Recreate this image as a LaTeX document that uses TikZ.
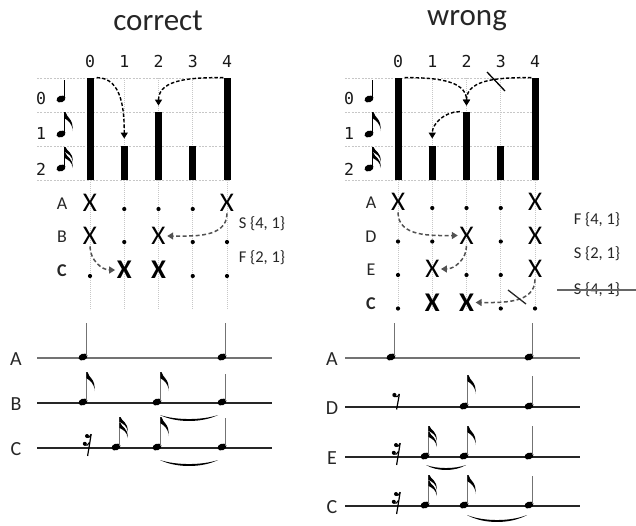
\documentclass[tikz,border=0pt]{standalone}
\usepackage{fontspec}
\setmainfont{Carlito}
\newfontfamily\digitfont{DejaVu Sans Mono}
\usetikzlibrary{arrows.meta}

% crescent-shaped tie below two notes: x1, x2, y, depth
\newcommand\tieunder[4]{%
  \fill (#1,#3) .. controls ({#1+(#2-#1)*0.28},{#3+1.33*#4}) and ({#2-(#2-#1)*0.28},{#3+1.33*#4}) .. (#2,#3)
        .. controls ({#2-(#2-#1)*0.28},{#3+1.33*#4-2.6}) and ({#1+(#2-#1)*0.28},{#3+1.33*#4-2.6}) .. cycle;}

\begin{document}
\begin{tikzpicture}[x=1pt,y=-1pt,
  title/.style={font=\fontsize{31}{34}\selectfont, text=black!85, anchor=base, inner sep=0pt},
  colnum/.style={font=\digitfont\fontsize{16.5}{18}\selectfont, text=black!90, anchor=base, inner sep=0pt},
  rowlab/.style={font=\fontsize{18}{20}\selectfont, text=black!85, inner sep=0pt},
  stafflab/.style={font=\fontsize{20}{22}\selectfont, text=black!85, inner sep=0pt},
  oplab/.style={font=\fontsize{16.5}{18}\selectfont, text=black!85, inner sep=0pt},
  gridh/.style={draw=black!22, line width=0.8pt, dash pattern=on 2pt off 1.3pt},
  gridv/.style={draw=black!22, line width=0.8pt, dash pattern=on 1pt off 1pt},
  bar/.style={fill=black, inner sep=0pt, minimum width=7pt, anchor=south},
  cellx/.style={font=\fontsize{27}{27}\selectfont, text=black, inner sep=1.5pt, node contents=X},
  cellb/.style={font=\fontsize{27}{27}\selectfont\bfseries, text=black, inner sep=1.5pt, node contents=X},
  celld/.style={circle, fill=black, inner sep=0pt, minimum size=4.2pt, yshift=-6pt, node contents={}},
  toparr/.style={-{Triangle[width=7pt,length=6pt]}, draw=black, line width=1.4pt, dash pattern=on 3.5pt off 2pt},
  botarr/.style={-{Triangle[width=7pt,length=6pt]}, draw=black!68, line width=1.5pt, dash pattern=on 4pt off 2.5pt},
  stemline/.style={draw=black!55, line width=1.1pt},
  staffA/.style={draw=black!55, line width=1.3pt},
  staffline/.style={draw=black!85, line width=1.1pt},
  pics/flag/.style={code={
    \fill (-0.6,0) -- (0.6,0) .. controls (1.5,{0.3*#1}) and (9,{0.35*#1}) .. (7.5,#1)
      .. controls (7.8,{0.6*#1}) and (3,{0.45*#1}) .. (-0.6,{0.32*#1}) -- cycle;}},
  pics/qn/.style={code={
    \fill[rotate=20] (0,0) ellipse (4.6pt and 3.3pt);
    \draw[stemline] (3.9,-1) -- (3.9,-#1);}},
  pics/en/.style={code={
    \fill[rotate=20] (0,0) ellipse (4.6pt and 3.3pt);
    \draw[stemline] (3.9,-1) -- (3.9,-#1);
    \pic at (3.9,-#1) {flag=19};}},
  pics/sn/.style={code={
    \fill[rotate=20] (0,0) ellipse (4.6pt and 3.3pt);
    \draw[stemline] (3.9,-1) -- (3.9,-#1);
    \pic at (3.9,-#1) {flag=15};
    \pic at (3.9,{-#1+6}) {flag=15};}},
  pics/er/.style={code={
    \fill (-2.6,-12) circle (2.1pt);
    \draw[line width=1.1pt] (-2.6,-10.5) .. controls (-0.5,-9.5) and (1.5,-10.5) .. (2.4,-13);
    \draw[line width=1.2pt] (2.4,-13) -- (-0.4,2.5);}},
  pics/sr/.style={code={
    \fill (-1,-12) circle (2pt);
    \fill (-3.2,-4.2) circle (2pt);
    \draw[line width=1.1pt] (-1,-10.6) .. controls (0.5,-10) and (2,-11) .. (3,-13.6);
    \draw[line width=1.1pt] (-3.2,-2.8) .. controls (-1.5,-2.2) and (0.5,-3) .. (1.5,-5.6);
    \draw[line width=1.2pt] (3.2,-14) -- (-0.4,8);}}
]
\useasboundingbox (0,0) rectangle (636,525);

% headings
\node[title] (tl) at (158,30) {correct};
\node[title] (tr) at (467,25) {wrong};

% duration grids (same for both panels)
\foreach \s/\o in {L/0,R/308} {
  \foreach \r in {78,112,146,180} \draw[gridh] (37+\o,\r) -- (230+\o,\r);
  \foreach \c in {0,...,4} \draw[gridv] ({90+\o+34.25*\c},78) -- ({90+\o+34.25*\c},310);
  \foreach \c/\h in {0/102,1/34,2/68,3/34,4/102}
    \node[bar, minimum height=\h pt] (\s b\c) at ({90+\o+34.25*\c},180) {};
  \foreach \c in {0,...,4}
    \node[colnum] (\s n\c) at ({90+\o+34.25*\c},67) {\c};
  \foreach \r/\y in {0/104,1/139,2/175}
    \node[colnum] (\s r\r) at (41+\o,\y) {\r};
  \begin{scope}[stemline/.style={draw=black, line width=1.1pt}]
    \pic at (61+\o,99) {qn=19};
    \pic at (61+\o,134) {en=22};
    \pic at (61+\o,168) {sn=21};
  \end{scope}
}

% top connectors, left panel
\draw[toparr] ([xshift=3pt]Lb0.north east) to[out=0,in=90] ([yshift=7pt]Lb1.north);
\draw[toparr] (Lb4.north west) to[out=180,in=90] ([yshift=6pt]Lb2.north);
% top connectors, right panel
\draw[toparr] ([xshift=3pt]Rb0.north east) to[out=0,in=90] ([yshift=6pt]Rb2.north);
\draw[toparr] (Rb4.north west) to[out=180,in=90] ([yshift=6pt]Rb2.north);
\draw[line width=1.3pt] (487,72) -- (505,91);
\draw[toparr] ([xshift=-3pt]Rb2.north west) to[out=180,in=90] ([yshift=7pt]Rb1.north);

% onset rows, left panel
\foreach \r/\y/\cells in {A/203/{x,d,d,d,x}, B/236/{x,d,x,d,d}, C/270/{d,b,b,d,d}}
  \foreach \k [count=\c from 0] in \cells
    \node (L\r\c) at ({90+34.25*\c},\y) [cell\k];
\node[rowlab] (LlA) at (62,204) {A};
\node[rowlab] (LlB) at (62,237) {B};
\node[rowlab] (LlC) at (62,271) {\bfseries C};
\node[oplab] (Lop1) at (262,224) {S \{4, 1\}};
\node[oplab] (Lop2) at (262,258) {F \{2, 1\}};
\draw[botarr] (LA4.south) to[out=-90,in=0] (LB2.east);
\draw[botarr] (LB0.south) to[out=-90,in=180] (LC1.west);

% onset rows, right panel
\foreach \r/\y/\cells in {A/202/{x,d,d,d,x}, D/235.5/{d,d,x,d,x}, E/269/{d,x,d,d,x}, C/302.5/{d,b,b,d,d}}
  \foreach \k [count=\c from 0] in \cells
    \node (R\r\c) at ({398+34.25*\c},\y) [cell\k];
\node[rowlab] (RlA) at (371,203) {A};
\node[rowlab] (RlD) at (371,236.5) {D};
\node[rowlab] (RlE) at (371,270) {E};
\node[rowlab] (RlC) at (371,303.5) {\bfseries C};
\node[oplab] (Rop1) at (597,220) {F \{4, 1\}};
\node[oplab] (Rop2) at (597,254) {S \{2, 1\}};
\node[oplab] (Rop3) at (597,290) {S \{4, 1\}};
\draw[black!60, line width=1.2pt] (557,290) -- (636,290);
\draw[botarr] (RA0.south) to[out=-90,in=180] (RD2.west);
\draw[botarr] (RD2.south) to[out=-90,in=0] (RE1.east);
\draw[botarr] (RE4.south) to[out=-90,in=0] (RC2.east);
\draw[black!85, line width=1.3pt] (508,290) -- (526,304);

% staves, left
\draw[staffA] (37,358) -- (272,358);
\draw[staffline] (37,403) -- (272,403);
\draw[staffline] (37,448) -- (272,448);
\node[stafflab] (SlA) at (16,359) {A};
\node[stafflab] (SlB) at (16,404) {B};
\node[stafflab] (SlC) at (16,449) {C};
\pic at (83,357) {qn=34};
\pic at (222,357) {qn=34};
\pic at (83,402) {en=30};
\pic at (157,402) {en=30};
\pic at (222,402) {qn=28};
\tieunder{160}{218}{415}{6}
\pic at (88,448) {sr};
\pic at (116,447) {sn=30};
\pic at (157,447) {en=30};
\pic at (222,447) {qn=29};
\tieunder{160}{218}{460}{6}

% staves, right
\draw[staffA] (345,358) -- (580,358);
\draw[staffline] (345,407) -- (580,407);
\draw[staffline] (345,457) -- (580,457);
\draw[staffline] (345,506) -- (580,506);
\node[stafflab] (SrA) at (332,359) {A};
\node[stafflab] (SrD) at (332,408) {D};
\node[stafflab] (SrE) at (332,458) {E};
\node[stafflab] (SrC) at (332,507) {C};
\pic at (391,357) {qn=34};
\pic at (529,357) {qn=34};
\pic at (397,407) {er};
\pic at (464,406) {en=31};
\pic at (529,406) {qn=30};
\pic at (397,457) {sr};
\pic at (425,456) {sn=30};
\pic at (464,456) {en=30};
\pic at (529,456) {qn=30};
\tieunder{426}{466}{465}{5}
\pic at (397,506) {sr};
\pic at (425,505) {sn=30};
\pic at (464,505) {en=30};
\pic at (529,505) {qn=29};
\tieunder{467}{527}{515}{7}
\end{tikzpicture}
\end{document}
